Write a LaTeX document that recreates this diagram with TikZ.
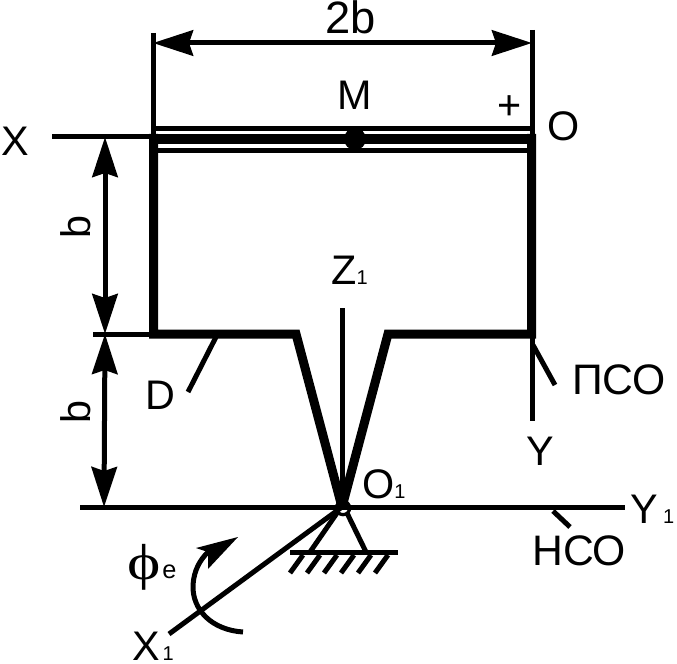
\documentclass[tikz,border=0pt]{standalone}
\usepackage{fontspec}
\setmainfont{Liberation Sans}
\newfontfamily\grk{Liberation Serif}
\usetikzlibrary{arrows.meta}
\newcommand{\subone}{{\fontsize{15}{15}\selectfont 1}}
\tikzset{
 x=0.75pt,y=-0.75pt,
 thick line/.style={line width=6.75pt,line join=miter},
 plate/.style={line width=3.75pt},
 axis/.style={line width=3.75pt},
 dim/.style={line width=3.75pt,{Stealth[length=30pt,width=19pt,inset=3pt]}-{Stealth[length=30pt,width=19pt,inset=3pt]}},
 lbl/.style={inner sep=0pt,anchor=base west,font=\fontsize{31}{31}\selectfont},
 big/.style={lbl,font=\fontsize{32}{32}\selectfont},
}
\begin{document}
\begin{tikzpicture}
\useasboundingbox (0,0) rectangle (677,663);
\coordinate (TL) at (153.5,139); \coordinate (TR) at (531.5,139);
\coordinate (BL) at (153.5,334); \coordinate (BR) at (531.5,334);
\coordinate (O1) at (342,507);
\coordinate (FL) at (296,334); \coordinate (FR) at (388,334);
% body
\draw[thick line] (153.5,134) -- (BL) -- (FL) -- (O1);
\draw[thick line] (O1) -- (FR) -- (BR) -- (531.5,134);
\draw[line width=6.75pt] (TL) -- (TR);
\draw[plate] (151,128.5) -- (533,128.5);
\draw[plate] (151,150.5) -- (533,150.5);
% thin extensions
\coordinate (A) at (153,33); \coordinate (B) at (532.5,30); \coordinate (Ye) at (532.5,421);
\draw[axis] (A) -- (153,136);
\draw[axis] (B) -- (532.5,136);
\draw[axis] (532.5,334) -- (Ye);
% axes
\coordinate (Xs) at (52,137);
\draw[axis] (Xs) -- (Xs-|TL);
\coordinate (Y1e) at (625,507); \coordinate (Y1s) at (80,507);
\draw[axis] (Y1s) -- (Y1e);
\coordinate (Zt) at (342,308);
\draw[axis] (Zt) -- (O1);
\coordinate (X1e) at (169,634);
\draw[axis] (O1) -- (X1e);
\draw[axis] (93,334) -- (BL);
% dims
\coordinate (d1a) at (153,43); \coordinate (d1b) at (532,43);
\draw[dim] (d1a) -- (d1b);
\coordinate (d2a) at (105,137); \coordinate (d2b) at (105,334); \coordinate (d3b) at (104,507);
\draw[dim] (d2a) -- (d2b);
\draw[dim] (d2b) -- (d3b);
% pin
\node[circle,draw,line width=2.4pt,minimum size=10pt,inner sep=0pt] (pin) at (343,508) {};
\fill (355,139) circle[radius=11];
% support
\coordinate (G1) at (290,552); \coordinate (G2) at (398,552);
\draw[axis] (G1) -- (G2);
\draw[axis] (337,513) -- (310,552);
\draw[axis] (347,513) -- (366,552);
\foreach \i in {0,...,5} \draw[axis] (303+17*\i,555) -- (290+17*\i,573);
% leaders
\draw[axis] (216,337) -- (188,392);
\draw[axis] (533,345) -- (555,385);
\draw[axis] (553,511) -- (570,527);
% rotation arrow
\draw[axis] (243,632) .. controls (212,630) and (192,610) .. (193,585) .. controls (194,570) and (200,560) .. (208,552);
\fill (238,537) -- (196,548) -- (208,552) -- (208,569) -- cycle;
% labels
\node[lbl,font=\fontsize{34}{34}\selectfont] (t2b) at (325,34) {2b};
\node[lbl] (tM) at (337,110) {M};
\node[lbl] (tplus) at (497,120) {+};
\node[lbl] (tO) at (547,141) {O};
\node[lbl] (tX) at (1,156) {X};
\node[lbl,rotate=90,anchor=center] (tb1) at (76,227) {b};
\node[lbl,rotate=90,anchor=center] (tb2) at (76,412) {b};
\node[lbl] (tZ) at (331,284) {Z\subone};
\node[lbl] (tD) at (145,409) {D};
\node[big] (tPSO) at (572,394) {ПСО};
\node[lbl] (tY) at (526,465) {Y};
\node[lbl] (tO1) at (362,498) {O\subone};
\node[lbl] (tY1) at (630,523) {Y\hspace{4pt}\subone};
\node[big] (tHSO) at (532,565) {НСО};
\node[inner sep=0pt,anchor=base west,xscale=1.25] (tphi) at (127,579) {\grk\fontsize{38}{38}\selectfont ϕ};
\node[inner sep=0pt,anchor=base west] (te) at (162,578) {\fontsize{19}{19}\selectfont e};
\node[lbl] (tX1) at (132,660) {X\hspace{2pt}\subone};
\end{tikzpicture}
\end{document}
